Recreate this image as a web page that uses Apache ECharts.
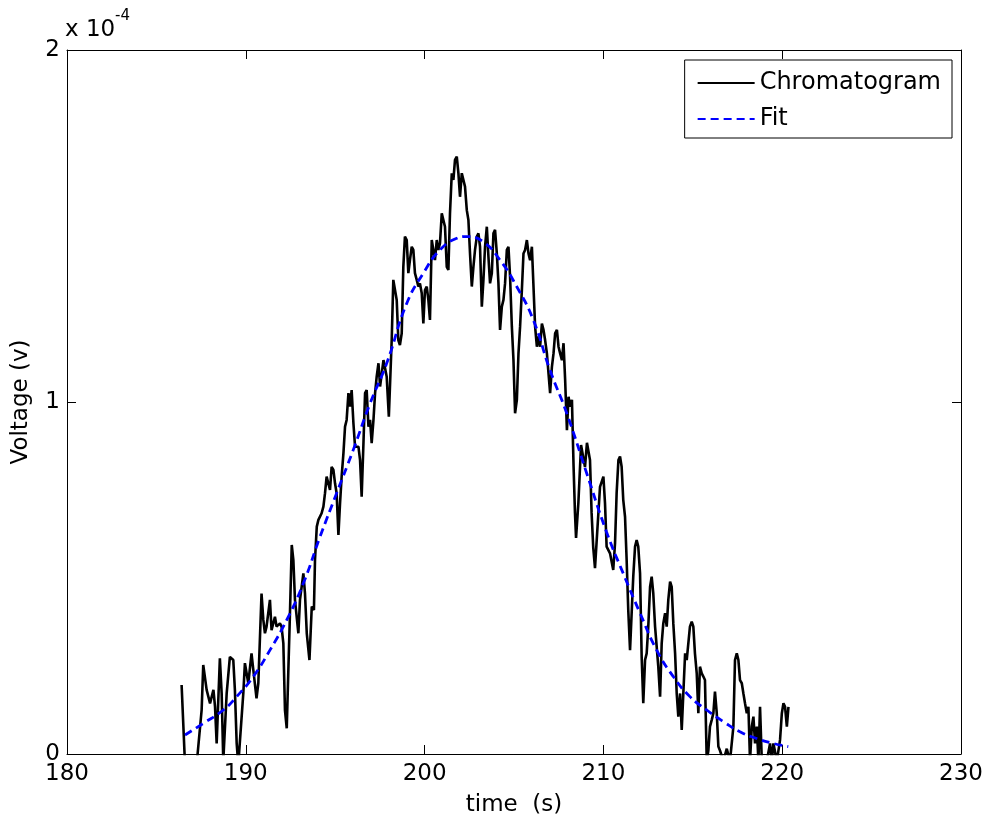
<!DOCTYPE html>
<html>
<head>
<meta charset="utf-8">
<script src="https://cdn.jsdelivr.net/npm/echarts@6/dist/echarts.min.js"></script>
<style>html,body{margin:0;padding:0;background:#fff}#c{width:987px;height:823px}</style>
</head>
<body>
<div id="c"></div>
<script>
// time (s)
const chromTime = [186.41,186.60,187.25,187.53,187.62,187.81,188.00,188.19,188.28,188.37,188.55,188.65,188.74,188.93,189.11,189.30,189.39,189.49,189.58,189.67,189.86,189.95,190.14,190.32,190.42,190.60,190.70,190.88,190.98,191.07,191.16,191.35,191.44,191.63,191.72,191.91,192.00,192.10,192.19,192.29,192.38,192.47,192.57,192.66,192.75,192.94,193.03,193.22,193.31,193.41,193.56,193.69,193.81,193.87,193.97,194.06,194.24,194.34,194.43,194.52,194.71,194.80,194.90,194.99,195.08,195.18,195.27,195.36,195.46,195.55,195.64,195.74,195.83,195.92,196.02,196.11,196.30,196.39,196.48,196.58,196.67,196.76,196.86,196.95,197.04,197.14,197.23,197.32,197.42,197.51,197.70,197.88,198.00,198.16,198.25,198.34,198.44,198.53,198.62,198.72,198.81,198.90,199.00,199.09,199.18,199.28,199.37,199.46,199.56,199.65,199.74,199.84,199.93,200.02,200.12,200.21,200.30,200.40,200.49,200.58,200.68,200.77,200.86,200.96,201.05,201.14,201.24,201.33,201.42,201.52,201.61,201.70,201.80,201.89,201.98,202.08,202.17,202.26,202.36,202.45,202.54,202.64,202.73,202.82,202.92,203.01,203.10,203.20,203.29,203.38,203.48,203.57,203.66,203.76,203.85,203.94,204.04,204.13,204.22,204.32,204.41,204.50,204.60,204.69,204.78,204.88,204.97,205.06,205.16,205.25,205.34,205.44,205.53,205.62,205.72,205.81,205.90,206.00,206.09,206.18,206.28,206.37,206.46,206.56,206.65,206.74,206.84,206.93,207.02,207.12,207.21,207.30,207.40,207.49,207.58,207.68,207.77,207.86,207.96,208.05,208.14,208.24,208.33,208.41,208.47,208.60,208.75,208.97,209.08,209.25,209.34,209.43,209.53,209.81,210.00,210.09,210.18,210.37,210.55,210.65,210.74,210.84,210.93,211.02,211.11,211.21,211.30,211.39,211.49,211.58,211.67,211.77,211.86,211.95,212.05,212.14,212.23,212.33,212.42,212.51,212.61,212.70,212.79,212.89,212.98,213.07,213.17,213.26,213.35,213.45,213.54,213.63,213.73,213.82,213.91,214.01,214.10,214.19,214.29,214.38,214.47,214.57,214.66,214.75,214.84,214.94,215.03,215.12,215.22,215.31,215.40,215.50,215.59,215.68,215.78,215.87,215.96,216.06,216.15,216.24,216.34,216.43,216.52,216.71,216.90,217.08,217.27,217.36,217.46,217.55,217.64,217.74,217.83,217.92,218.02,218.11,218.20,218.30,218.39,218.48,218.58,218.67,218.76,218.86,219.14,219.32,219.42,219.51,219.70,219.88,219.98,220.07,220.16,220.26,220.35];
// voltage, in units of 1e-4 V
const chromVoltage = [0.196,-0.03,-0.03,0.125,0.253,0.182,0.144,0.182,0.134,0.030,0.272,0.172,-0.02,0.172,0.276,0.267,0.182,0.030,-0.03,-0.03,0.172,0.258,0.201,0.286,0.239,0.158,0.201,0.456,0.381,0.343,0.362,0.438,0.352,0.390,0.362,0.371,0.362,0.314,0.125,0.073,0.239,0.400,0.594,0.551,0.438,0.343,0.438,0.513,0.456,0.343,0.267,0.419,0.409,0.551,0.646,0.665,0.684,0.703,0.741,0.788,0.750,0.816,0.807,0.769,0.741,0.622,0.712,0.788,0.854,0.930,0.949,1.025,0.987,1.034,0.939,0.873,0.873,0.835,0.731,0.883,1.025,1.034,0.930,0.949,0.883,0.949,1.025,1.072,1.110,1.044,1.119,1.072,0.958,1.176,1.347,1.352,1.290,1.176,1.162,1.195,1.384,1.470,1.460,1.366,1.403,1.441,1.432,1.366,1.347,1.328,1.337,1.309,1.223,1.318,1.328,1.290,1.233,1.460,1.465,1.403,1.460,1.432,1.451,1.536,1.541,1.498,1.384,1.375,1.536,1.650,1.631,1.688,1.697,1.650,1.583,1.650,1.650,1.612,1.545,1.517,1.422,1.328,1.384,1.432,1.470,1.479,1.441,1.271,1.347,1.441,1.498,1.413,1.337,1.366,1.479,1.489,1.422,1.337,1.205,1.271,1.290,1.337,1.432,1.441,1.356,1.214,1.119,0.968,1.006,1.138,1.214,1.318,1.422,1.432,1.460,1.422,1.403,1.441,1.328,1.214,1.157,1.186,1.157,1.223,1.205,1.176,1.138,1.081,1.025,1.100,1.138,1.195,1.205,1.157,1.138,1.119,1.167,1.063,0.920,1.015,0.987,1.006,0.820,0.685,0.614,0.713,0.878,0.815,0.884,0.835,0.685,0.588,0.528,0.759,0.788,0.712,0.589,0.570,0.523,0.598,0.741,0.835,0.845,0.816,0.722,0.674,0.551,0.409,0.295,0.400,0.504,0.589,0.608,0.589,0.513,0.276,0.144,0.267,0.286,0.362,0.475,0.504,0.456,0.362,0.305,0.248,0.163,0.314,0.371,0.400,0.362,0.438,0.490,0.475,0.371,0.286,0.172,0.106,0.172,0.068,0.172,0.286,0.267,0.314,0.362,0.376,0.362,0.286,0.229,0.116,0.248,0.229,0.220,0.210,-0.02,0.010,0.078,0.097,0.116,0.177,0.116,0.021,0.010,-0.02,0.015,-0.02,0.078,0.267,0.286,0.267,0.210,0.201,0.172,0.144,0.116,0.134,-0.02,0.078,0.106,0.030,0.078,-0.02,0.134,-0.02,-0.02,0.030,-0.02,0.030,-0.02,0.040,0.116,0.144,0.134,0.078,0.134];

const fitTime = [186.6,187.62,188.74,189.49,190.42,191.35,192.29,193.22,194.15,195.08,196.01,196.95,197.88,199.0,199.93,200.86,201.8,202.35,203.28,204.22,205.15,206.08,207.01,207.95,209.07,210.18,211.11,212.05,212.98,213.91,214.84,215.78,216.71,217.64,218.57,219.5,220.34];
const fitVoltage = [0.054,0.087,0.125,0.163,0.220,0.295,0.381,0.485,0.617,0.741,0.864,0.996,1.110,1.280,1.366,1.432,1.465,1.470,1.455,1.403,1.328,1.233,1.091,0.968,0.797,0.630,0.513,0.400,0.295,0.220,0.163,0.125,0.092,0.063,0.044,0.030,0.021];

const xTicks = [180, 190, 200, 210, 220, 230];
const yTicks = [0, 1, 2];
const xName = 'time  (s)';
const yName = 'Voltage (v)';
const seriesNames = ['Chromatogram', 'Fit'];

const FONT = '"DejaVu Sans", "Liberation Sans", Arial, sans-serif';
const chart = echarts.init(document.getElementById('c'), null, {renderer: 'canvas'});

const axisCommon = {
  type: 'value',
  axisLine: {show: true, onZero: false, lineStyle: {color: '#000', width: 1}},
  axisTick: {show: true, inside: true, length: 9, lineStyle: {color: '#000', width: 1}},
  splitLine: {show: false}
};

chart.setOption({
  animation: false,
  backgroundColor: '#fff',
  textStyle: {fontFamily: FONT},
  grid: {left: 67, right: 26, top: 50, bottom: 69, containLabel: false},
  xAxis: [
    Object.assign({}, axisCommon, {
      position: 'bottom', min: xTicks[0], max: xTicks[xTicks.length - 1], interval: xTicks[1] - xTicks[0],
      name: xName, nameLocation: 'middle', nameGap: 40,
      nameTextStyle: {fontSize: 23, color: '#000', fontFamily: FONT},
      axisLabel: {fontSize: 23, color: '#000', margin: 9, fontFamily: FONT}
    }),
    Object.assign({}, axisCommon, {
      position: 'top', min: xTicks[0], max: xTicks[xTicks.length - 1], interval: xTicks[1] - xTicks[0],
      axisLabel: {show: false}
    })
  ],
  yAxis: [
    Object.assign({}, axisCommon, {
      position: 'left', min: yTicks[0], max: yTicks[yTicks.length - 1], interval: 1,
      name: yName, nameLocation: 'middle', nameGap: 34, nameRotate: 90,
      nameTextStyle: {fontSize: 23, color: '#000', fontFamily: FONT},
      axisLabel: {fontSize: 23, color: '#000', margin: 7, fontFamily: FONT}
    }),
    Object.assign({}, axisCommon, {
      position: 'right', min: yTicks[0], max: yTicks[yTicks.length - 1], interval: 1,
      axisLabel: {show: false}
    })
  ],
  legend: {
    orient: 'vertical', right: 35, top: 60,
    data: seriesNames,
    backgroundColor: '#fff', borderColor: '#000', borderWidth: 1, borderRadius: 0,
    padding: [11, 11, 7, 12], itemGap: 12, itemWidth: 57, itemHeight: 20,
    itemStyle: {opacity: 0},
    textStyle: {fontSize: 24, color: '#000', fontFamily: FONT}
  },
  graphic: [
    {type: 'text', left: 65, top: 19, style: {text: 'x 10', fill: '#000', font: '23px "DejaVu Sans", sans-serif'}},
    {type: 'text', left: 115, top: 9, style: {text: '-4', fill: '#000', font: '15px "DejaVu Sans", sans-serif'}}
  ],
  series: [
    {
      name: seriesNames[0], type: 'line', xAxisIndex: 0, yAxisIndex: 0,
      showSymbol: false, symbol: 'none', clip: true,
      lineStyle: {color: '#000', width: 2.6},
      itemStyle: {color: '#000'},
      data: chromTime.map((t, i) => [t, chromVoltage[i]])
    },
    {
      name: seriesNames[1], type: 'line', xAxisIndex: 0, yAxisIndex: 0,
      showSymbol: false, symbol: 'none', smooth: true, clip: true,
      lineStyle: {color: '#0000ff', width: 2.8, type: [8, 5]},
      itemStyle: {color: '#0000ff'},
      data: fitTime.map((t, i) => [t, fitVoltage[i]])
    }
  ]
});
</script>
</body>
</html>
